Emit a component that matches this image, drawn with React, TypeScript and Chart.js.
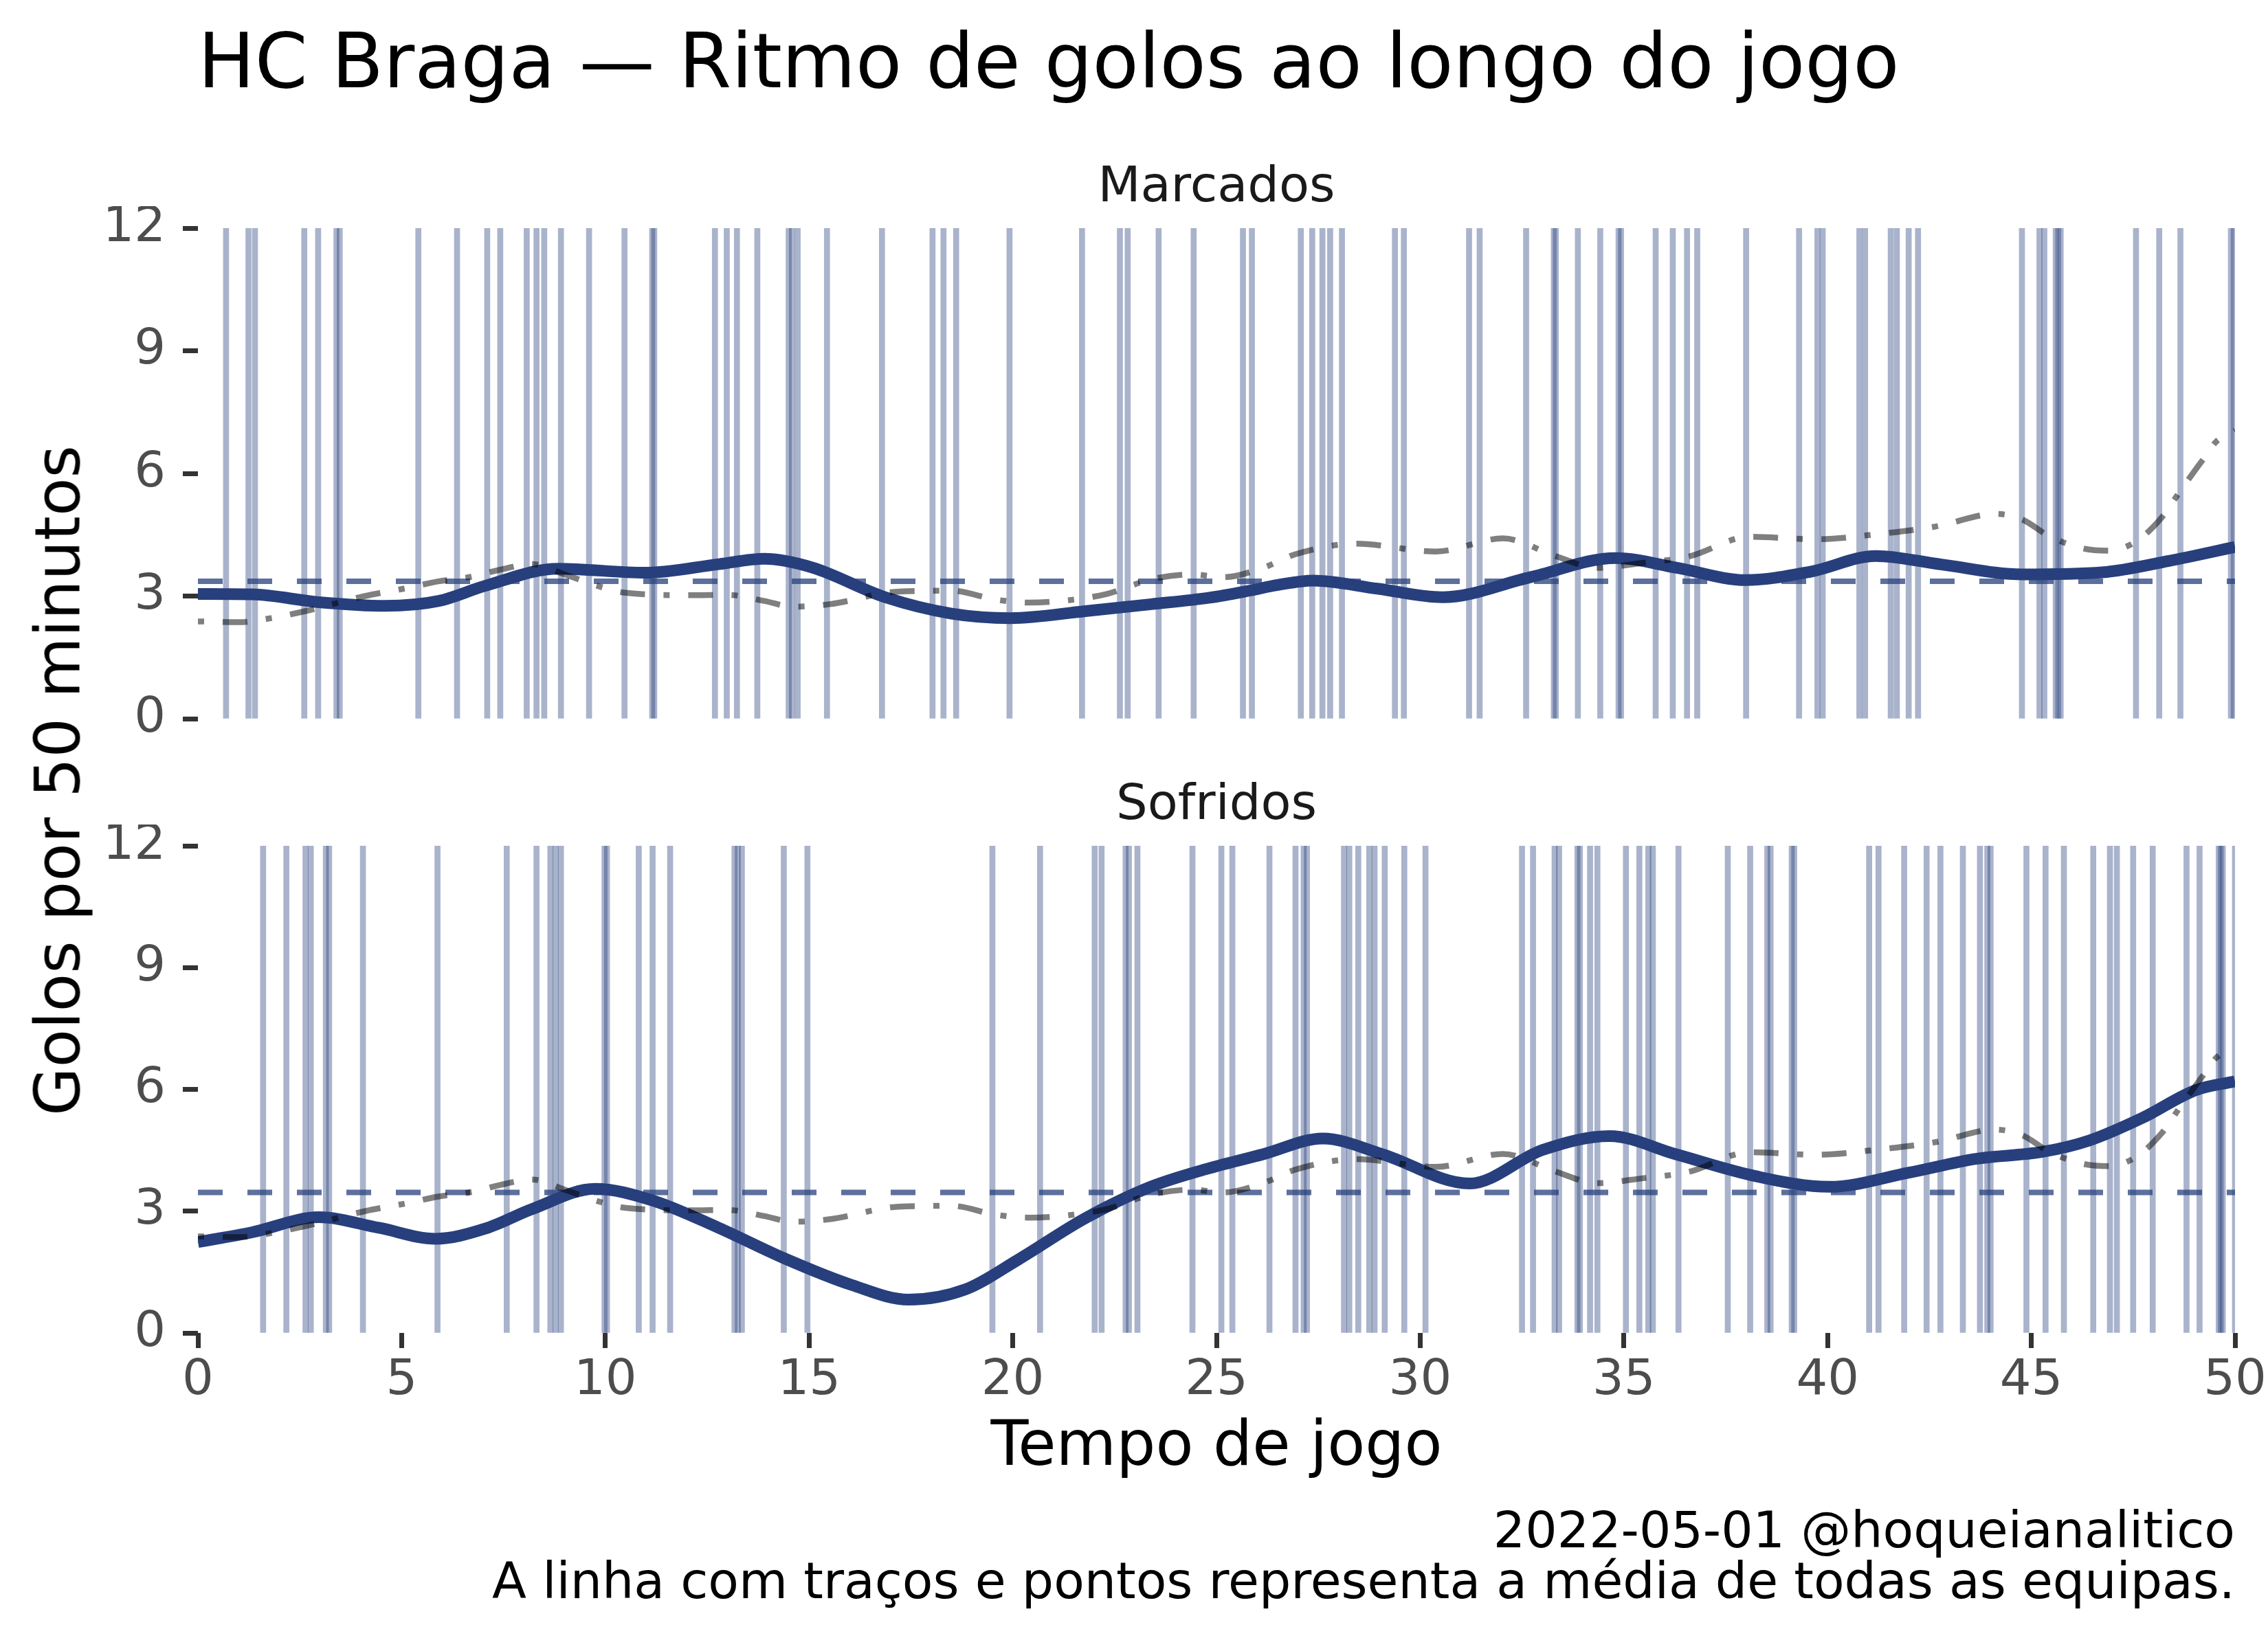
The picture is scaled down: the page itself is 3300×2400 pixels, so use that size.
import React, { useEffect, useRef } from "react";
import { Chart, registerables } from "chart.js";

Chart.register(...registerables);

const FONT = "'DejaVu Sans', 'Liberation Sans', sans-serif";

// ---- axis ----
const X_MIN = 0;
const X_MAX = 50;
const X_STEP = 5;
const Y_MIN = 0;
const Y_MAX = 12;
const Y_STEP = 3;

// ---- goal minutes (vertical lines) ----
const GOALS_MARCADOS = [
  0.69, 1.24, 1.40, 2.61, 2.95, 3.40, 3.48, 5.41, 6.36, 7.10, 7.42, 8.07, 8.31, 8.50, 8.91,
  9.60, 10.47, 11.15, 11.20, 12.69, 12.98, 13.23, 13.73, 14.50, 14.58, 14.72, 15.44, 16.79,
  18.03, 18.30, 18.61, 19.92, 21.70, 22.63, 22.82, 23.58, 24.44, 25.65, 25.87, 27.07, 27.35,
  27.60, 27.79, 28.08, 29.38, 29.60, 31.20, 31.46, 32.60, 33.28, 33.33, 33.87, 34.42, 34.87,
  34.93, 35.78, 36.20, 36.55, 36.80, 38.00, 39.30, 39.75, 39.88, 40.78, 40.92, 41.55, 41.70,
  41.99, 42.22, 44.77, 45.20, 45.32, 45.60, 45.66, 45.72, 47.57, 48.14, 48.66, 49.90, 49.97,
];

const GOALS_SOFRIDOS = [
  1.60, 2.17, 2.64, 2.77, 3.14, 3.22, 4.05, 5.88, 7.58, 8.31, 8.65, 8.78, 8.91, 9.98, 10.04,
  10.82, 11.16, 11.59, 13.17, 13.25, 13.35, 14.38, 14.96, 19.50, 20.67, 22.01, 22.18, 22.77,
  22.85, 23.06, 24.41, 25.12, 25.39, 26.30, 26.94, 27.14, 27.22, 28.13, 28.26, 28.48, 28.75,
  28.88, 29.13, 29.61, 30.13, 32.50, 32.77, 33.30, 33.41, 33.86, 33.92, 34.17, 34.35, 35.05,
  35.38, 35.60, 35.71, 36.34, 37.55, 38.10, 38.52, 38.60, 39.12, 39.18, 41.02, 41.25, 41.88,
  42.43, 42.77, 43.32, 43.74, 43.92, 44.00, 44.88, 45.35, 45.80, 46.52, 46.93, 47.10, 47.50,
  47.98, 48.81, 49.13, 49.60, 49.65, 49.70, 50.00,
];

// ---- team rate curves ----
const SCORED_X = [
  0, 1.33, 2.97, 4.6, 5.91, 7.05, 8.85, 10.98, 12.79, 13.9, 15.07, 16.87, 18.5, 19.95, 21.78,
  23.4, 24.83, 25.8, 26.5, 27.37, 28.95, 30.55, 32.7, 34.8, 36.3, 37.99, 39.6, 41.18, 42.8,
  44.78, 46.74, 48.38, 50,
];
const SCORED_Y = [
  3.05, 3.04, 2.85, 2.76, 2.88, 3.25, 3.67, 3.57, 3.78, 3.91, 3.7, 2.97, 2.57, 2.46, 2.63,
  2.8, 2.96, 3.13, 3.27, 3.38, 3.18, 2.97, 3.46, 3.93, 3.69, 3.39, 3.6, 3.98, 3.77,
  3.53, 3.58, 3.86, 4.2,
];

const CONCEDED_X = [
  0, 1.33, 2.97, 4.44, 5.83, 7.05, 8.2, 9.75, 11.14, 12.78, 14.41, 16.05, 17.44, 18.83, 20.14,
  21.77, 23.41, 24.83, 26.14, 27.61, 29.08, 31.21, 33.01, 34.65, 36.28, 38.24, 40.04, 42.0,
  43.64, 45.27, 46.42, 47.73, 49.03, 50,
];
const CONCEDED_Y = [
  2.24, 2.48, 2.85, 2.59, 2.32, 2.57, 3.05, 3.55, 3.27, 2.59, 1.83, 1.18, 0.82, 1.07, 1.81,
  2.82, 3.61, 4.06, 4.4, 4.79, 4.4, 3.68, 4.51, 4.85, 4.4, 3.86, 3.6, 3.95,
  4.29, 4.46, 4.74, 5.3, 5.98, 6.2,
];

// ---- league average (all teams) ----
const LEAGUE_X = [
  0, 0.99, 1.8, 2.63, 4.1, 5.1, 5.9, 6.7, 7.4, 8.2, 9.0, 9.8, 10.5, 12.1, 13.0, 13.9, 14.6,
  15.5, 17.2, 18.5, 19.6, 20.4, 21.2, 22.3, 23.4, 24.4, 25.16, 26.14, 26.96, 28.43, 30.39,
  32.03, 33.34, 34.32, 35.46, 36.6, 38.08, 39.71, 41.35, 42.65, 44.12, 44.78, 45.43, 46.25,
  46.9, 47.56, 48.2, 48.71, 49.2, 49.53, 50,
];
const LEAGUE_Y = [
  2.38, 2.36, 2.46, 2.63, 3.0, 3.19, 3.36, 3.47, 3.64, 3.78, 3.53, 3.25, 3.08, 3.02, 3.03, 2.88,
  2.74, 2.8, 3.11, 3.13, 2.91, 2.84, 2.88, 3.05, 3.41, 3.53, 3.46, 3.69, 4.03, 4.28, 4.09,
  4.41, 3.97, 3.69, 3.81, 3.97, 4.45, 4.39, 4.53, 4.7, 5.01, 4.87, 4.47, 4.17,
  4.11, 4.33, 4.92, 5.65, 6.32, 6.77, 7.05,
];

// ---- team means (horizontal dashed) ----
const MEAN_SCORED = 3.36;
const MEAN_CONCEDED = 3.46;

// ---- texts ----
const TITLE = "HC Braga — Ritmo de golos ao longo do jogo";
const PANEL_MARCADOS = "Marcados";
const PANEL_SOFRIDOS = "Sofridos";
const Y_TITLE = "Golos por 50 minutos";
const X_TITLE = "Tempo de jogo";
const CAPTION_1 = "2022-05-01 @hoqueianalitico";
const CAPTION_2 = "A linha com traços e pontos representa a média de todas as equipas.";

const NAVY = "#273f7c";
const W = 3300;
const PANEL_RIGHT_PAD = 48;

type PanelProps = {
  goals: number[];
  teamX: number[];
  teamY: number[];
  mean: number;
  showX: boolean;
  top: number;
  height: number;
  padTop: number;
  padBottom: number;
};

function Panel(p: PanelProps) {
  const ref = useRef<HTMLCanvasElement | null>(null);
  useEffect(() => {
    if (!ref.current) return;
    const tickFont = { family: FONT, size: 72 };
    const chart = new Chart(ref.current, {
      type: "line",
      data: {
        datasets: [
          {
            type: "line",
            data: LEAGUE_X.map((x, i) => ({ x, y: LEAGUE_Y[i] })),
            borderColor: "rgba(0,0,0,0.5)",
            borderWidth: 8.5,
            borderDash: [9, 27, 36, 27],
            borderCapStyle: "butt",
            cubicInterpolationMode: "monotone",
            pointRadius: 0,
            fill: false,
          },
          {
            type: "line",
            data: p.teamX.map((x, i) => ({ x, y: p.teamY[i] })),
            borderColor: NAVY,
            borderWidth: 17,
            borderCapStyle: "butt",
            borderJoinStyle: "round",
            cubicInterpolationMode: "monotone",
            pointRadius: 0,
            fill: false,
          },
          {
            type: "line",
            data: [
              { x: X_MIN, y: p.mean },
              { x: X_MAX, y: p.mean },
            ],
            borderColor: "rgba(39,64,124,0.75)",
            borderWidth: 8,
            borderDash: [36, 36],
            borderCapStyle: "butt",
            tension: 0,
            pointRadius: 0,
            fill: false,
          },
          {
            type: "bar",
            data: p.goals.map((t) => ({ x: t, y: [Y_MIN, Y_MAX] })),
            backgroundColor: "rgba(39,64,124,0.4)",
            borderWidth: 0,
            barThickness: 8,
            grouped: false,
          } as any,
        ],
      },
      options: {
        animation: false,
        responsive: false,
        maintainAspectRatio: false,
        devicePixelRatio: 1,
        events: [],
        layout: {
          autoPadding: false,
          padding: { left: 0, right: PANEL_RIGHT_PAD, top: p.padTop, bottom: p.padBottom },
        },
        plugins: { legend: { display: false }, tooltip: { enabled: false }, title: { display: false } },
        scales: {
          x: {
            type: "linear",
            min: X_MIN,
            max: X_MAX,
            offset: false,
            display: p.showX,
            ticks: {
              stepSize: X_STEP,
              font: tickFont,
              color: "#4d4d4d",
              padding: 5,
              maxRotation: 0,
              autoSkip: false,
            },
            grid: {
              offset: false,
              drawOnChartArea: false,
              drawTicks: true,
              tickLength: 22,
              tickWidth: 7,
              tickColor: "#333333",
            },
            border: { display: false },
            afterFit: (s: any) => {
              s.height = p.showX ? 120 : 0;
              s.paddingLeft = 0;
              s.paddingRight = 0;
            },
          },
          y: {
            type: "linear",
            min: Y_MIN,
            max: Y_MAX,
            ticks: {
              stepSize: Y_STEP,
              font: tickFont,
              color: "#4d4d4d",
              padding: 25,
            },
            grid: {
              drawOnChartArea: false,
              drawTicks: true,
              tickLength: 22,
              tickWidth: 7,
              tickColor: "#333333",
            },
            border: { display: false },
            afterFit: (s: any) => {
              s.width = 288;
              s.paddingTop = 0;
              s.paddingBottom = 0;
            },
          },
        },
      } as any,
    });
    return () => chart.destroy();
  }, []);
  return (
    <canvas
      ref={ref}
      width={W}
      height={p.height}
      style={{ position: "absolute", left: 0, top: p.top, width: W, height: p.height }}
    />
  );
}

function Text(props: {
  text: string;
  size: number;
  baseline: number;
  left?: number;
  width?: number;
  align?: "left" | "center" | "right";
  color?: string;
}) {
  const top = props.baseline - 0.846 * props.size;
  return (
    <div
      style={{
        position: "absolute",
        left: props.left ?? 0,
        top,
        width: props.width ?? W,
        textAlign: props.align ?? "left",
        fontFamily: FONT,
        fontSize: props.size,
        lineHeight: 1,
        color: props.color ?? "#000",
        whiteSpace: "nowrap",
      }}
    >
      {props.text}
    </div>
  );
}

export default function App() {
  const panelLeft = 288;
  const panelWidth = W - PANEL_RIGHT_PAD - panelLeft;
  return (
    <div
      style={{
        position: "absolute",
        left: 0,
        top: 0,
        width: W,
        height: 2400,
        background: "#ffffff",
        overflow: "hidden",
      }}
    >
      <Text text={TITLE} size={110} baseline={127} left={288} />
      <Text text={PANEL_MARCADOS} size={72} baseline={293} left={panelLeft} width={panelWidth} align="center" color="#1a1a1a" />
      <Text text={PANEL_SOFRIDOS} size={72} baseline={1192} left={panelLeft} width={panelWidth} align="center" color="#1a1a1a" />

      <Panel
        goals={GOALS_MARCADOS}
        teamX={SCORED_X}
        teamY={SCORED_Y}
        mean={MEAN_SCORED}
        showX={false}
        top={300}
        height={780}
        padTop={32}
        padBottom={34}
      />
      <Panel
        goals={GOALS_SOFRIDOS}
        teamX={CONCEDED_X}
        teamY={CONCEDED_Y}
        mean={MEAN_CONCEDED}
        showX={true}
        top={1200}
        height={860}
        padTop={31}
        padBottom={0}
      />

      <div
        style={{
          position: "absolute",
          left: 84,
          top: 1136,
          transform: "translate(-50%, -50%) rotate(-90deg)",
          fontFamily: FONT,
          fontSize: 91,
          lineHeight: 1,
          whiteSpace: "nowrap",
          color: "#000",
        }}
      >
        {Y_TITLE}
      </div>

      <Text text={X_TITLE} size={90} baseline={2132} left={panelLeft} width={panelWidth} align="center" />
      <Text text={CAPTION_1} size={73} baseline={2252} left={0} width={W - PANEL_RIGHT_PAD} align="right" />
      <Text text={CAPTION_2} size={73} baseline={2326} left={0} width={W - PANEL_RIGHT_PAD} align="right" />
    </div>
  );
}
